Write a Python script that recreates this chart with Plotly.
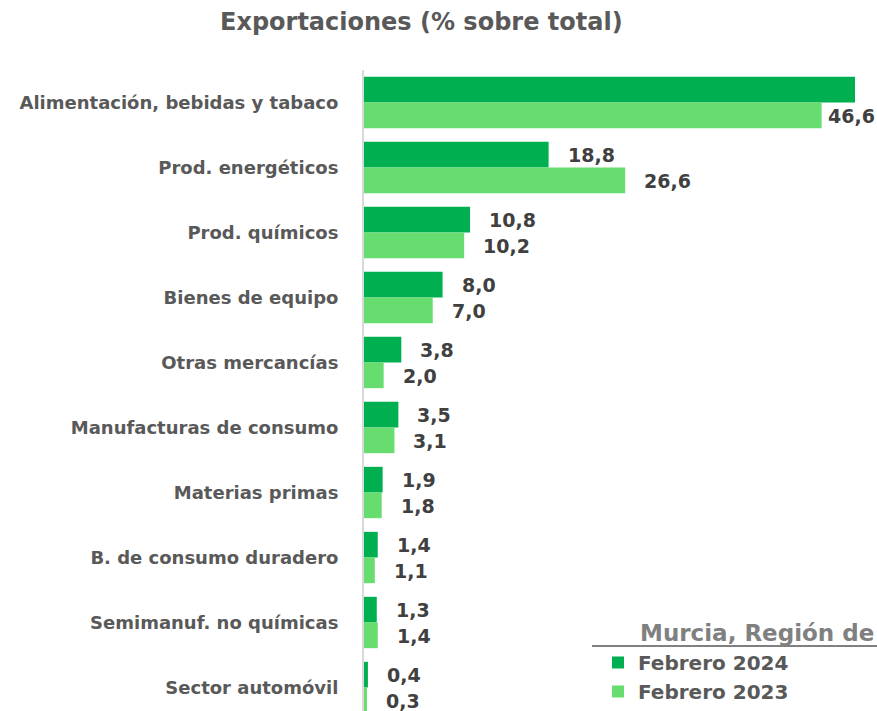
import plotly.graph_objects as go

categories = ["Alimentación, bebidas y tabaco", "Prod. energéticos", "Prod. químicos",
              "Bienes de equipo", "Otras mercancías", "Manufacturas de consumo",
              "Materias primas", "B. de consumo duradero", "Semimanuf. no químicas",
              "Sector automóvil"]
feb2024 = [50.0, 18.8, 10.8, 8.0, 3.8, 3.5, 1.9, 1.4, 1.3, 0.4]
feb2023 = [46.6, 26.6, 10.2, 7.0, 2.0, 3.1, 1.8, 1.1, 1.4, 0.3]
series_names = ["Febrero 2024", "Febrero 2023"]
legend_title = "Murcia, Región de"
title = "Exportaciones (% sobre total)"

W, H = 877, 720
ML, MR, MT, MB = 364, 22, 70, 0
PW, PH = W - ML - MR, H - MT - MB

def px_x(p):
    return (p - ML) / PW

def px_y(p):
    return (H - MB - p) / PH

fmt = lambda v: f"{v:.1f}".replace(".", ",")
FONT = "DejaVu Sans"

fig = go.Figure()
fig.add_trace(go.Bar(y=categories, x=feb2024, orientation="h", name=series_names[0],
                     marker=dict(color="#00B050", line=dict(width=0))))
fig.add_trace(go.Bar(y=categories, x=feb2023, orientation="h", name=series_names[1],
                     marker=dict(color="#66DD6E", line=dict(width=0))))

ann = []
for i, c in enumerate(categories):
    for vals, ys, tr in ((feb2024, 13, 0), (feb2023, -13, 1)):
        v = vals[i]
        if tr == 0 and i == 0:
            continue  # label not shown in the reference (clipped)
        xs = 4 if (tr == 1 and i == 0) else 17
        ann.append(dict(x=v, y=c, xref="x", yref="y", text=f"<b>{fmt(v)}</b>",
                        showarrow=False, xanchor="left", yanchor="middle",
                        xshift=xs, yshift=ys,
                        font=dict(family=FONT, size=19, color="#404040")))

ann.append(dict(x=px_x(421), y=1, xref="paper", yref="paper", xanchor="center",
                yanchor="middle", yshift=MT - 22, text=f"<b>{title}</b>", showarrow=False,
                font=dict(family=FONT, size=24, color="#595959")))
ann.append(dict(x=px_x(876), y=px_y(633), xref="paper", yref="paper", xanchor="right",
                yanchor="middle", text=f"<b>{legend_title}</b>", showarrow=False,
                font=dict(family=FONT, size=23, color="#808080")))

fig.update_layout(
    width=W, height=H,
    margin=dict(l=ML, r=MR, t=MT, b=MB, pad=0),
    paper_bgcolor="white", plot_bgcolor="white",
    barmode="group", bargap=0.21, bargroupgap=0,
    xaxis=dict(range=[0, 50], visible=False, fixedrange=True),
    yaxis=dict(autorange="reversed", showline=True, linecolor="#D9D9D9", linewidth=2,
               ticks="", showgrid=False, ticklabelstandoff=20,
               tickfont=dict(family=FONT, size=18, color="#595959", weight="bold")),
    legend=dict(x=px_x(598), y=px_y(643), xanchor="left", yanchor="top",
                bgcolor="rgba(0,0,0,0)",
                font=dict(family=FONT, size=20, color="#595959", weight="bold"),
                itemclick=False, tracegroupgap=0),
    annotations=ann,
    shapes=[dict(type="line", xref="paper", yref="paper", x0=px_x(592), x1=px_x(877),
                 y0=px_y(646), y1=px_y(646), line=dict(color="#808080", width=2))],
    showlegend=True,
)
fig.write_html("out.html", config={"displayModeBar": False},
               post_script="document.body.style.margin='0';document.body.style.overflow='hidden';")
